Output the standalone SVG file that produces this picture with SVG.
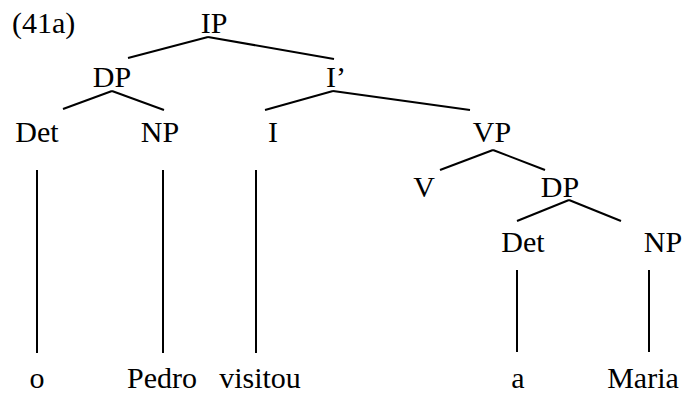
<svg xmlns="http://www.w3.org/2000/svg" width="685" height="394" viewBox="0 0 685 394">
  <style>
    text { font-family: "Liberation Serif", "Times New Roman", serif; font-size: 30px; fill: #000; text-anchor: middle; }
    #edges line { stroke: #000; stroke-width: 2; stroke-linecap: butt; }
  </style>
  <rect width="685" height="394" fill="#fff"/>

  <!-- example number -->
  <text x="12" y="33" style="text-anchor:start">(41a)</text>

  <!-- branches of the tree -->
  <g id="edges">
    <line x1="208" y1="37" x2="128" y2="58"/>
    <line x1="208" y1="37" x2="334" y2="59"/>
    <line x1="112" y1="91" x2="63" y2="109"/>
    <line x1="112" y1="91" x2="164" y2="110"/>
    <line x1="333" y1="91" x2="265" y2="110"/>
    <line x1="333" y1="91" x2="470" y2="110"/>
    <line x1="493" y1="150" x2="440" y2="170"/>
    <line x1="493" y1="150" x2="545" y2="170"/>
    <line x1="569" y1="200" x2="517" y2="221"/>
    <line x1="569" y1="200" x2="621" y2="221"/>
    <line x1="37" y1="170" x2="37" y2="353"/>
    <line x1="163" y1="170" x2="163" y2="353"/>
    <line x1="256" y1="170" x2="256" y2="353"/>
    <line x1="517" y1="270" x2="517" y2="352"/>
    <line x1="649" y1="270" x2="649" y2="352"/>
  </g>

  <!-- category labels -->
  <g id="n-IP"><text x="214" y="33">IP</text></g>
  <g id="n-DP1"><text x="112" y="87">DP</text></g>
  <g id="n-Ibar"><text x="336" y="87">I’</text></g>
  <g id="n-Det1"><text x="37" y="142">Det</text></g>
  <g id="n-NP1"><text x="160" y="142">NP</text></g>
  <g id="n-I"><text x="273" y="142">I</text></g>
  <g id="n-VP"><text x="492" y="142">VP</text></g>
  <g id="n-V"><text x="424" y="197">V</text></g>
  <g id="n-DP2"><text x="560" y="197">DP</text></g>
  <g id="n-Det2"><text x="523" y="252">Det</text></g>
  <g id="n-NP2"><text x="663" y="252">NP</text></g>

  <!-- terminal words -->
  <g id="w-o"><text x="37" y="388">o</text></g>
  <g id="w-Pedro"><text x="162" y="388">Pedro</text></g>
  <g id="w-visitou"><text x="260" y="388">visitou</text></g>
  <g id="w-a"><text x="518" y="388">a</text></g>
  <g id="w-Maria"><text x="643" y="388">Maria</text></g>
</svg>
